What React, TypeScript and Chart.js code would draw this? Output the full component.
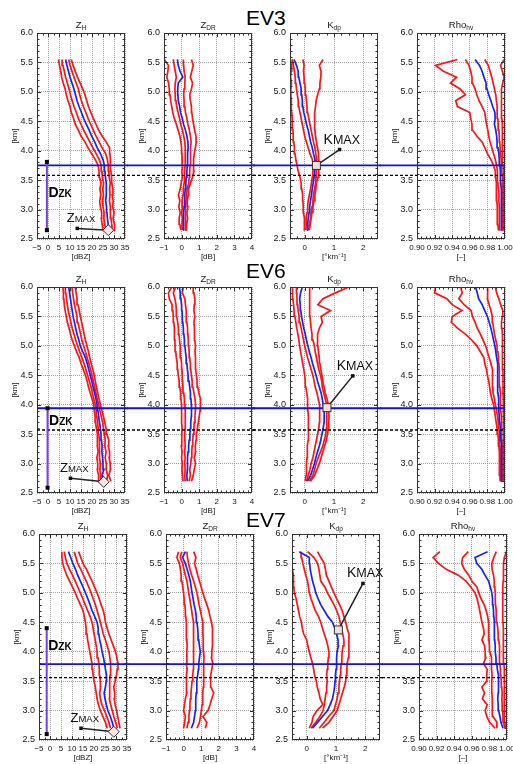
import React, { useEffect, useRef } from "react";
import { Chart, registerables } from "chart.js";
Chart.register(...registerables);

// ---------------- data ----------------
const EVENTS = ["EV3", "EV6", "EV7"];

const EV3_KM = [2.65,2.75,2.85,2.95,3.05,3.15,3.25,3.35,3.45,3.55,3.65,3.75,3.85,3.95,4.05,4.15,4.25,4.35,4.45,4.55,4.65,4.75,4.85,4.95,5.05,5.15,5.25,5.35,5.45,5.55];
const EV6_KM = [2.7,2.8,2.9,3.0,3.1,3.2,3.3,3.4,3.5,3.6,3.7,3.8,3.9,4.0,4.1,4.2,4.3,4.4,4.5,4.6,4.7,4.8,4.9,5.0,5.1,5.2,5.3,5.4,5.5,5.6,5.7,5.8,5.9,6.0];
const EV7_KM = [2.7,2.8,2.9,3.0,3.1,3.2,3.3,3.4,3.5,3.6,3.7,3.8,3.9,4.0,4.1,4.2,4.3,4.4,4.5,4.6,4.7,4.8,4.9,5.0,5.1,5.2,5.3,5.4,5.5,5.6,5.7];

// EV3
const EV3_ZH_P10 = [25.0,24.6,24.2,24.4,23.8,23.5,24.0,23.6,24.1,23.4,23.2,22.8,21.5,19.8,18.2,16.8,15.0,13.8,12.4,11.6,10.6,10.0,9.1,8.3,7.8,6.9,6.2,5.8,5.2,4.8];
const EV3_ZH_P25 = [26.2,25.8,25.4,25.5,25.0,24.8,25.2,24.9,25.3,24.7,24.5,24.2,23.3,21.9,20.4,19.0,17.6,16.2,15.0,13.8,12.9,11.8,11.0,10.2,9.6,8.8,8.0,7.4,6.8,6.4];
const EV3_ZH_MED = [27.8,27.4,27.0,26.8,26.6,26.2,26.5,26.4,26.6,26.1,25.9,25.6,25.0,23.8,22.4,21.2,19.8,18.7,17.4,16.2,15.2,14.1,13.2,12.5,11.8,10.9,10.0,9.3,8.6,8.0];
const EV3_ZH_P75 = [29.2,29.0,28.6,28.3,28.4,27.9,28.2,28.0,28.3,27.8,27.6,27.4,27.0,26.2,24.6,23.2,21.8,20.6,19.4,18.2,17.2,16.1,15.2,14.4,13.8,12.8,11.8,10.9,10.0,9.4];
const EV3_ZH_P90 = [30.0,30.2,29.6,30.0,29.4,29.6,29.2,29.5,29.0,28.9,28.6,28.4,28.3,28.1,28.0,26.4,24.6,23.0,21.8,20.6,19.5,18.4,17.6,16.8,15.8,14.6,13.4,12.4,11.4,10.6];

const EV3_ZDR_P10 = [-0.04,-0.1,-0.14,-0.08,-0.16,-0.1,-0.18,-0.08,-0.02,0.04,0.02,0.06,0.03,0.02,0.0,-0.04,-0.1,-0.2,-0.3,-0.42,-0.5,-0.56,-0.62,-0.66,-0.7,-0.74,-0.84,-0.78,-0.75,-0.98];
const EV3_ZDR_P25 = [0.04,0.02,0.05,0.0,0.06,0.03,0.08,0.1,0.14,0.15,0.18,0.2,0.2,0.22,0.2,0.18,0.12,0.05,-0.05,-0.12,-0.2,-0.28,-0.32,-0.36,-0.38,-0.36,-0.3,-0.36,-0.42,-0.47];
const EV3_ZDR_MED = [0.09,0.09,0.11,0.13,0.15,0.17,0.19,0.21,0.24,0.26,0.3,0.32,0.34,0.34,0.37,0.36,0.3,0.22,0.11,0.04,-0.06,-0.11,-0.19,-0.21,-0.22,-0.19,0.07,-0.09,-0.19,-0.24];
const EV3_ZDR_P75 = [0.2,0.22,0.2,0.24,0.22,0.26,0.28,0.32,0.4,0.44,0.46,0.48,0.5,0.5,0.52,0.54,0.5,0.44,0.36,0.3,0.22,0.18,0.14,0.12,0.14,0.18,0.2,0.14,0.12,0.1];
const EV3_ZDR_P90 = [0.3,0.28,0.34,0.3,0.36,0.32,0.38,0.4,0.5,0.62,0.7,0.66,0.7,0.72,0.78,0.84,0.82,0.74,0.68,0.62,0.58,0.56,0.5,0.46,0.56,0.62,0.5,0.58,0.66,0.56];

const EV3_KDP_P10 = [0.0,-0.02,0.0,-0.04,-0.05,-0.06,-0.07,-0.1,-0.12,-0.16,-0.22,-0.26,-0.3,-0.33,-0.35,-0.37,-0.39,-0.4,-0.42,-0.43,-0.44,-0.45,-0.46,-0.47,-0.47,-0.45,-0.48,-0.46,-0.44,-0.42];
const EV3_KDP_P25 = [0.04,0.06,0.05,0.08,0.1,0.12,0.16,0.2,0.23,0.26,0.28,0.3,0.26,0.18,0.12,0.06,0.0,-0.04,-0.08,-0.12,-0.16,-0.2,-0.22,-0.25,-0.28,-0.3,-0.32,-0.35,-0.38,-0.42];
const EV3_KDP_MED = [0.08,0.1,0.12,0.15,0.17,0.2,0.23,0.26,0.29,0.32,0.34,0.37,0.35,0.3,0.26,0.2,0.16,0.12,0.06,0.02,-0.03,-0.06,-0.08,-0.1,-0.12,-0.16,-0.2,-0.22,-0.28,-0.36];
const EV3_KDP_P75 = [0.14,0.16,0.2,0.22,0.25,0.28,0.3,0.34,0.37,0.39,0.4,0.41,0.4,0.38,0.35,0.3,0.26,0.22,0.18,0.14,0.1,0.08,0.06,0.04,0.02,0.0,-0.02,-0.04,-0.02,-0.06];
const EV3_KDP_P90 = [0.16,0.19,0.22,0.25,0.28,0.32,0.35,0.38,0.4,0.46,0.48,0.5,0.48,0.47,0.44,0.4,0.37,0.35,0.34,0.33,0.35,0.37,0.39,0.44,0.5,0.52,0.55,0.56,0.5,0.63];

const EV3_RHO_P10 = [0.9925,0.992,0.9915,0.991,0.9912,0.9905,0.9908,0.99,0.9898,0.9895,0.989,0.987,0.984,0.98,0.977,0.974,0.968,0.963,0.9625,0.961,0.96,0.946,0.944,0.955,0.949,0.938,0.945,0.93,0.921,0.946];
const EV3_RHO_P25 = [0.994,0.9935,0.994,0.9932,0.9935,0.993,0.9932,0.9925,0.992,0.9918,0.991,0.9905,0.989,0.987,0.985,0.983,0.9815,0.9805,0.979,0.978,0.977,0.974,0.9705,0.968,0.966,0.963,0.9625,0.961,0.959,0.955];
const EV3_RHO_MED = [0.9962,0.996,0.9962,0.996,0.9958,0.9957,0.9955,0.9955,0.9952,0.995,0.9945,0.9942,0.9935,0.993,0.992,0.991,0.9905,0.9895,0.988,0.9888,0.9885,0.986,0.984,0.9815,0.9795,0.9785,0.976,0.974,0.971,0.966];
const EV3_RHO_P75 = [0.9975,0.9972,0.9975,0.9973,0.9972,0.997,0.9972,0.997,0.9968,0.9966,0.9962,0.996,0.9955,0.995,0.9945,0.994,0.9935,0.993,0.9922,0.9918,0.9912,0.991,0.9902,0.9895,0.988,0.9865,0.985,0.983,0.981,0.977];
const EV3_RHO_P90 = [0.9985,0.9983,0.9985,0.9984,0.9983,0.9985,0.9982,0.9984,0.9983,0.998,0.9978,0.9977,0.9975,0.9972,0.997,0.9968,0.997,0.9966,0.9968,0.9965,0.9962,0.9965,0.996,0.9955,0.9958,0.9975,0.999,0.997,0.995,0.999];

// EV6
const EV6_ZH_P10 = [22.8,23.0,22.4,22.6,22.2,22.8,22.4,22.6,22.3,22.0,21.6,21.4,21.0,20.8,20.0,19.2,18.4,17.8,17.0,16.0,15.0,14.2,13.0,12.0,11.0,10.2,9.6,8.8,8.3,7.8,7.4,7.2,7.0,6.8];
const EV6_ZH_P25 = [23.8,24.0,23.6,23.8,23.4,23.6,23.2,23.4,23.0,22.8,22.5,22.2,21.9,21.5,20.8,20.2,19.6,18.8,18.0,17.2,16.4,15.4,14.4,13.5,12.6,11.8,11.0,10.4,9.8,9.2,8.8,8.4,8.1,7.9];
const EV6_ZH_MED = [25.0,24.6,25.4,25.0,24.8,24.5,24.6,24.3,24.1,23.8,23.4,23.0,22.7,22.3,21.8,21.2,20.5,19.9,19.2,18.5,17.8,17.0,15.8,14.7,14.0,13.2,12.6,12.0,11.4,11.0,10.6,10.2,9.8,9.4];
const EV6_ZH_P75 = [26.6,27.1,26.4,26.5,26.0,26.4,25.8,26.0,25.6,25.2,24.8,24.2,23.6,23.0,22.4,21.8,21.2,20.6,20.0,19.3,18.6,17.8,17.0,16.2,15.4,14.8,14.2,13.6,13.2,12.6,12.0,11.6,11.2,10.9];
const EV6_ZH_P90 = [28.6,27.6,28.4,28.3,27.8,28.0,27.4,27.6,26.8,26.4,25.8,25.2,24.5,23.8,23.2,22.6,22.0,21.5,21.0,20.4,19.6,19.0,18.4,17.7,17.0,16.4,15.9,15.3,14.7,14.2,13.6,13.2,12.8,12.4];

const EV6_ZDR_P10 = [0.08,0.05,0.02,0.04,0.0,0.03,-0.02,0.02,0.0,0.03,0.0,0.02,-0.02,0.0,-0.04,-0.06,-0.1,-0.14,-0.19,-0.22,-0.25,-0.3,-0.33,-0.37,-0.38,-0.4,-0.42,-0.44,-0.47,-0.5,-0.54,-0.7,-0.75,-0.56];
const EV6_ZDR_P25 = [0.2,0.18,0.2,0.18,0.2,0.17,0.2,0.19,0.18,0.2,0.22,0.2,0.2,0.19,0.16,0.12,0.08,0.06,0.04,0.02,0.0,-0.04,-0.07,-0.09,-0.12,-0.15,-0.18,-0.22,-0.28,-0.3,-0.32,-0.38,-0.47,-0.34];
const EV6_ZDR_MED = [0.32,0.3,0.33,0.32,0.35,0.37,0.4,0.43,0.47,0.5,0.52,0.55,0.56,0.56,0.53,0.5,0.46,0.42,0.37,0.33,0.3,0.26,0.22,0.19,0.16,0.13,0.1,0.07,0.04,0.02,0.0,-0.04,-0.08,-0.13];
const EV6_ZDR_P75 = [0.42,0.5,0.46,0.52,0.55,0.58,0.6,0.63,0.66,0.7,0.72,0.76,0.78,0.79,0.76,0.7,0.64,0.6,0.56,0.52,0.5,0.46,0.43,0.41,0.38,0.36,0.34,0.3,0.28,0.25,0.22,0.18,0.04,0.1];
const EV6_ZDR_P90 = [0.56,0.66,0.72,0.79,0.72,0.8,0.78,0.82,0.84,0.9,0.95,1.0,1.05,1.06,1.09,0.98,0.92,0.88,0.84,0.8,0.78,0.8,0.76,0.79,0.74,0.72,0.74,0.7,0.75,0.7,0.72,0.75,0.7,0.66];

const EV6_KDP_P10 = [0.02,0.05,0.06,0.06,0.08,0.08,0.1,0.12,0.14,0.13,0.12,0.12,0.11,0.11,0.09,0.07,0.04,0.02,0.0,-0.03,-0.07,-0.1,-0.14,-0.17,-0.2,-0.23,-0.27,-0.3,-0.33,-0.36,-0.38,-0.4,-0.41,-0.42];
const EV6_KDP_P25 = [0.06,0.12,0.18,0.22,0.28,0.32,0.36,0.4,0.44,0.48,0.5,0.52,0.51,0.5,0.46,0.42,0.36,0.32,0.28,0.22,0.16,0.1,0.05,0.0,-0.04,-0.08,-0.12,-0.16,-0.19,-0.22,-0.24,-0.26,-0.27,-0.28];
const EV6_KDP_MED = [0.1,0.2,0.27,0.33,0.38,0.44,0.5,0.55,0.59,0.63,0.66,0.67,0.66,0.63,0.6,0.56,0.5,0.44,0.39,0.33,0.27,0.22,0.16,0.11,0.06,0.02,-0.03,-0.07,-0.11,-0.13,-0.15,-0.17,-0.14,-0.08];
const EV6_KDP_P75 = [0.16,0.28,0.34,0.39,0.46,0.54,0.62,0.67,0.72,0.74,0.76,0.76,0.75,0.74,0.7,0.65,0.6,0.58,0.54,0.48,0.44,0.4,0.36,0.33,0.28,0.25,0.22,0.2,0.18,0.17,0.18,0.17,0.16,0.17];
const EV6_KDP_P90 = [0.2,0.34,0.42,0.5,0.56,0.62,0.68,0.74,0.78,0.8,0.82,0.83,0.82,0.81,0.76,0.7,0.66,0.62,0.59,0.55,0.52,0.5,0.47,0.45,0.44,0.44,0.5,0.6,0.56,0.88,0.45,0.62,1.05,1.5];

const EV6_RHO_P10 = [0.9945,0.9942,0.994,0.9938,0.9935,0.9932,0.993,0.9925,0.992,0.991,0.99,0.989,0.988,0.987,0.985,0.9835,0.9825,0.9815,0.98,0.979,0.977,0.976,0.972,0.968,0.962,0.955,0.946,0.939,0.94,0.951,0.94,0.934,0.92,0.921];
const EV6_RHO_P25 = [0.9955,0.9953,0.995,0.995,0.9948,0.9945,0.9942,0.994,0.9935,0.993,0.9925,0.9915,0.9905,0.989,0.988,0.9865,0.9862,0.986,0.9858,0.9855,0.984,0.982,0.98,0.978,0.975,0.972,0.9685,0.966,0.963,0.9615,0.9535,0.9475,0.9515,0.9495];
const EV6_RHO_MED = [0.9965,0.9965,0.9963,0.9962,0.996,0.9958,0.9955,0.9953,0.995,0.9945,0.994,0.9935,0.993,0.993,0.9925,0.992,0.992,0.9918,0.992,0.9915,0.991,0.9905,0.9895,0.9885,0.987,0.9855,0.984,0.982,0.98,0.977,0.974,0.97,0.9685,0.9665];
const EV6_RHO_P75 = [0.9975,0.9973,0.9972,0.997,0.997,0.9968,0.9967,0.9965,0.9962,0.996,0.9958,0.9955,0.9952,0.995,0.9948,0.9945,0.9942,0.994,0.9935,0.9932,0.993,0.9925,0.992,0.991,0.9895,0.988,0.987,0.986,0.9855,0.984,0.982,0.98,0.9805,0.98];
const EV6_RHO_P90 = [0.9985,0.9984,0.9985,0.9984,0.9985,0.9983,0.9984,0.9982,0.9983,0.998,0.9982,0.998,0.9978,0.998,0.9978,0.9977,0.9978,0.9976,0.9978,0.9975,0.9972,0.9975,0.9972,0.997,0.9968,0.997,0.9965,0.996,0.997,0.9975,0.995,0.993,0.9905,0.989];

// EV7
const EV7_ZH_P10 = [26.0,25.2,24.0,22.9,22.0,21.4,21.0,20.6,20.0,19.6,19.4,19.1,18.6,18.1,17.6,17.1,16.8,16.4,16.1,15.6,15.0,13.8,12.6,11.5,10.2,8.9,7.6,6.6,5.8,5.4,5.4];
const EV7_ZH_P25 = [27.5,26.8,25.8,24.8,23.6,22.9,22.6,23.0,22.9,22.6,22.4,22.2,21.8,21.4,21.0,20.6,20.0,19.6,19.1,18.2,17.1,16.0,14.9,13.8,12.6,11.5,10.2,8.9,7.7,7.0,6.5];
const EV7_ZH_MED = [29.0,28.3,27.4,26.3,25.6,25.0,24.6,25.2,25.6,25.7,25.2,24.8,24.3,23.7,23.2,22.6,22.2,21.9,21.4,20.3,19.1,18.2,17.2,16.1,15.0,13.8,12.6,11.6,10.4,9.4,8.4];
const EV7_ZH_P75 = [30.6,29.8,29.0,28.3,27.6,27.0,27.2,27.0,27.2,27.3,27.6,27.5,27.2,26.8,26.0,25.2,24.2,23.6,22.9,22.2,21.4,20.6,19.6,18.7,17.6,16.5,15.2,14.0,12.6,11.8,11.0];
const EV7_ZH_P90 = [31.8,31.3,30.8,30.3,29.6,29.2,29.4,29.0,29.6,30.2,30.6,30.9,30.4,29.8,28.8,27.8,26.8,26.0,25.2,24.8,24.2,23.2,22.4,21.4,20.2,19.1,17.8,16.6,15.0,14.0,13.0];

const EV7_ZDR_P10 = [0.0,0.06,0.1,0.0,0.05,0.1,0.18,0.14,0.19,0.16,0.2,0.15,0.18,0.19,0.2,0.18,0.17,0.15,0.15,0.12,0.1,0.07,0.03,0.0,-0.05,-0.1,-0.14,-0.18,-0.24,-0.38,-0.29];
const EV7_ZDR_P25 = [0.19,0.25,0.3,0.33,0.36,0.38,0.42,0.45,0.48,0.52,0.55,0.55,0.57,0.57,0.58,0.57,0.57,0.56,0.55,0.5,0.46,0.4,0.35,0.29,0.24,0.19,0.1,0.02,-0.05,-0.19,-0.1];
const EV7_ZDR_MED = [0.44,0.57,0.62,0.67,0.68,0.7,0.72,0.74,0.76,0.8,0.84,0.86,0.9,0.95,0.9,0.86,0.82,0.8,0.76,0.72,0.67,0.6,0.54,0.48,0.43,0.38,0.3,0.2,0.1,-0.06,0.1];
const EV7_ZDR_P75 = [0.76,0.9,0.96,1.01,1.05,1.07,1.1,1.12,1.14,1.14,1.15,1.14,1.16,1.14,1.12,1.11,1.1,1.1,1.09,1.02,0.95,0.88,0.82,0.76,0.67,0.57,0.46,0.36,0.28,0.22,0.19];
const EV7_ZDR_P90 = [1.24,1.32,1.1,1.39,1.5,1.6,1.71,1.55,1.52,1.55,1.6,1.66,1.58,1.6,1.64,1.66,1.64,1.62,1.58,1.5,1.43,1.32,1.2,1.09,1.0,0.9,0.8,0.72,0.62,0.7,0.57];

const EV7_KDP_P10 = [0.09,0.18,0.22,0.35,0.55,0.46,0.42,0.36,0.33,0.27,0.24,0.2,0.14,0.09,0.04,0.0,-0.1,-0.15,-0.18,-0.24,-0.28,-0.32,-0.36,-0.42,-0.44,-0.44,-0.46,-0.49,null,null,null];
const EV7_KDP_P25 = [0.15,0.31,0.45,0.56,0.6,0.63,0.66,0.68,0.7,0.68,0.7,0.72,0.74,0.76,0.72,0.67,0.6,0.54,0.48,0.4,0.29,0.22,0.15,0.09,0.06,0.03,-0.03,-0.08,-0.13,-0.17,-0.19];
const EV7_KDP_MED = [0.2,0.37,0.54,0.71,0.8,0.88,0.92,0.95,0.97,0.98,1.0,1.01,1.03,1.04,1.08,1.07,1.02,0.96,0.88,0.72,0.6,0.48,0.39,0.31,0.26,0.2,0.16,0.12,0.1,0.09,-0.25];
const EV7_KDP_P75 = [0.43,0.6,0.75,0.93,0.98,1.04,1.07,1.1,1.12,1.14,1.16,1.18,1.2,1.21,1.24,1.27,1.23,1.19,1.14,1.1,1.02,0.93,0.82,0.71,0.62,0.48,0.45,0.42,0.37,0.25,0.03];
const EV7_KDP_P90 = [0.54,0.76,0.9,1.04,1.1,1.16,1.22,1.28,1.33,1.35,1.37,1.38,1.42,1.44,1.44,1.44,1.44,1.38,1.33,1.27,1.21,1.12,1.02,0.93,0.84,0.76,0.67,0.64,0.6,0.48,0.37];

const EV7_RHO_P10 = [0.9866,0.9802,0.977,0.9752,0.9775,0.972,0.9745,0.9715,0.9768,0.977,0.9775,0.9733,0.976,0.9752,0.9745,0.9715,0.974,0.9733,0.9715,0.9702,0.969,0.9676,0.966,0.9637,0.9588,0.9534,0.9447,0.931,0.922,0.916,0.9237];
const EV7_RHO_P25 = [0.9885,0.9885,0.984,0.9836,0.983,0.9832,0.9828,0.9825,0.9828,0.983,0.9825,0.9828,0.982,0.9805,0.98,0.9795,0.9792,0.979,0.979,0.978,0.9763,0.974,0.9705,0.968,0.9656,0.96,0.9565,0.9515,0.9485,0.9495,0.956];
const EV7_RHO_MED = [0.9954,0.9931,0.992,0.9905,0.99,0.9895,0.99,0.9905,0.9905,0.99,0.989,0.9885,0.9875,0.9866,0.9866,0.986,0.9858,0.9856,0.9855,0.985,0.9847,0.984,0.9835,0.9828,0.981,0.979,0.975,0.9714,0.9656,0.9637,0.9779];
const EV7_RHO_P75 = [0.9973,0.9962,0.9955,0.995,0.9945,0.9942,0.9945,0.994,0.9935,0.993,0.9925,0.992,0.9918,0.9916,0.991,0.9905,0.99,0.9895,0.9885,0.988,0.9875,0.987,0.9868,0.9866,0.986,0.9855,0.9847,0.983,0.9828,0.985,0.9878];
const EV7_RHO_P90 = [0.9985,0.9975,0.997,0.9968,0.997,0.9972,0.9968,0.997,0.9973,0.997,0.9968,0.9965,0.9962,0.9962,0.996,0.9958,0.9955,0.9955,0.9954,0.9952,0.995,0.995,0.995,0.9954,0.9954,0.9956,0.9958,0.996,0.9962,0.997,0.9992];

// tick labels
const KM_TICKS = [2.5, 3.0, 3.5, 4.0, 4.5, 5.0, 5.5, 6.0];
const ZH_TICKS = [-5, 0, 5, 10, 15, 20, 25, 30, 35];
const ZDR_TICKS = [-1, 0, 1, 2, 3, 4];
const KDP_TICKS = [0, 1, 2];
const RHO_TICKS = [0.9, 0.92, 0.94, 0.96, 0.98, 1.0];

// annotation values (per event)
const BLUE_LEVEL = [3.75, 3.94, 3.79];
const DASH_LEVEL = [3.58, 3.57, 3.56];
const DZK_X = [-0.5, -0.2, -1.5];
const DZK_TOP = [3.81, 3.94, 4.4];
const DZK_BOTTOM = [2.65, 2.59, 2.6];
const DZK_LABEL_KM = [3.22, 3.66, 4.03];
const ZMAX_X = [27.4, 25.3, 29.0];
const ZMAX_KM = [2.65, 2.69, 2.64];
const ZTAG_X = [13.3, 10.2, 14.1];
const ZTAG_KM = [2.68, 2.75, 2.7];
const KMAX_X = [0.4, 0.76, 1.08];
const KMAX_KM = [3.75, 3.95, 4.37];
const KTAG_X = [1.19, 1.64, 1.92];
const KTAG_KM = [4.02, 4.49, 5.16];

const KM = [EV3_KM, EV6_KM, EV7_KM];
const SERIES = [
  [
    [EV3_ZH_P10, EV3_ZH_P25, EV3_ZH_MED, EV3_ZH_P75, EV3_ZH_P90],
    [EV3_ZDR_P10, EV3_ZDR_P25, EV3_ZDR_MED, EV3_ZDR_P75, EV3_ZDR_P90],
    [EV3_KDP_P10, EV3_KDP_P25, EV3_KDP_MED, EV3_KDP_P75, EV3_KDP_P90],
    [EV3_RHO_P10, EV3_RHO_P25, EV3_RHO_MED, EV3_RHO_P75, EV3_RHO_P90],
  ],
  [
    [EV6_ZH_P10, EV6_ZH_P25, EV6_ZH_MED, EV6_ZH_P75, EV6_ZH_P90],
    [EV6_ZDR_P10, EV6_ZDR_P25, EV6_ZDR_MED, EV6_ZDR_P75, EV6_ZDR_P90],
    [EV6_KDP_P10, EV6_KDP_P25, EV6_KDP_MED, EV6_KDP_P75, EV6_KDP_P90],
    [EV6_RHO_P10, EV6_RHO_P25, EV6_RHO_MED, EV6_RHO_P75, EV6_RHO_P90],
  ],
  [
    [EV7_ZH_P10, EV7_ZH_P25, EV7_ZH_MED, EV7_ZH_P75, EV7_ZH_P90],
    [EV7_ZDR_P10, EV7_ZDR_P25, EV7_ZDR_MED, EV7_ZDR_P75, EV7_ZDR_P90],
    [EV7_KDP_P10, EV7_KDP_P25, EV7_KDP_MED, EV7_KDP_P75, EV7_KDP_P90],
    [EV7_RHO_P10, EV7_RHO_P25, EV7_RHO_MED, EV7_RHO_P75, EV7_RHO_P90],
  ],
];

// ---------------- styling / layout ----------------
const FONT = '"Liberation Sans", Arial, Helvetica, sans-serif';
const RED = "#ff1414";
const BLUE = "#1424ff";
const HBLUE = "#1212d8";
const PURPLE = "#7a3cf0";
const GRID = "#8f8f8f";
const TXT = "#1a1a1a";

const PLOT_LEFT = [37, 164, 290, 417];
const ROW_TOP = [33, 287, 534];
const ROW_SHIFT = [0, 0, 2];
const PLOT_W = 88;
const PLOT_H = 206;
const Y_AXIS_W = 37;
const TOP_PAD = 33;
const X_AXIS_H = 30;
const RIGHT_PAD = 12;
const EV_TITLE_TOP = [7, 260, 509];

const fmtInt = (v: number) => (v < 0 ? "\u2212" + Math.abs(v) : String(v));
const VARS = [
  { title: ["Z", "H"], unit: "[dBZ]", min: -5, max: 35, ticks: ZH_TICKS, minor: 2.5, fmt: fmtInt },
  { title: ["Z", "DR"], unit: "[dB]", min: -1, max: 4, ticks: ZDR_TICKS, minor: 0.25, fmt: fmtInt },
  { title: ["K", "dp"], unit: "[\u00B0km\u207B\u00B9]", min: -0.5, max: 2.5, ticks: KDP_TICKS, minor: 0.25, fmt: fmtInt },
  { title: ["Rho", "hv"], unit: "[\u2013]", min: 0.9, max: 1.0, ticks: RHO_TICKS, minor: 0.005, fmt: (v: number) => v.toFixed(2) },
];

function drawSub(ctx: CanvasRenderingContext2D, x: number, y: number, main: string, sub: string, f1: string, f2: string, dy: number, center: boolean) {
  ctx.font = f1;
  const w1 = ctx.measureText(main).width;
  ctx.font = f2;
  const w2 = ctx.measureText(sub).width;
  const x0 = center ? x - (w1 + w2) / 2 : x;
  ctx.textAlign = "left";
  ctx.textBaseline = "alphabetic";
  ctx.font = f1;
  ctx.fillText(main, x0, y);
  ctx.font = f2;
  ctx.fillText(sub, x0 + w1, y + dy);
}

function seg(ctx: CanvasRenderingContext2D, x0: number, y0: number, x1: number, y1: number) {
  ctx.beginPath();
  ctx.moveTo(x0, y0);
  ctx.lineTo(x1, y1);
  ctx.stroke();
}

function makeDeco(row: number, col: number) {
  return {
    id: "deco",
    afterDatasetsDraw(chart: any) {
      const ctx: CanvasRenderingContext2D = chart.ctx;
      const a = chart.chartArea;
      const xs = chart.scales.x;
      const ys = chart.scales.y;
      const v = VARS[col];
      ctx.save();

      // frame + inward ticks
      ctx.strokeStyle = "#333";
      ctx.lineWidth = 1;
      ctx.beginPath();
      const nx = Math.round((v.max - v.min) / v.minor);
      for (let i = 1; i < nx; i++) {
        const val = v.min + i * v.minor;
        const px = Math.round(xs.getPixelForValue(val)) + 0.5;
        const major = v.ticks.some((t: number) => Math.abs(t - val) < 1e-6);
        const len = major ? 4 : 2.5;
        ctx.moveTo(px, a.bottom);
        ctx.lineTo(px, a.bottom - len);
        ctx.moveTo(px, a.top);
        ctx.lineTo(px, a.top + len);
      }
      for (let i = 1; i < 35; i++) {
        const val = 2.5 + i * 0.1;
        const py = Math.round(ys.getPixelForValue(val)) + 0.5;
        const len = i % 5 === 0 ? 4 : 2.5;
        ctx.moveTo(a.left, py);
        ctx.lineTo(a.left + len, py);
        ctx.moveTo(a.right, py);
        ctx.lineTo(a.right - len, py);
      }
      ctx.stroke();
      ctx.strokeRect(a.left + 0.5, a.top + 0.5, a.right - a.left - 1, a.bottom - a.top - 1);

      // horizontal reference lines across the row
      const hx0 = col === 0 ? a.left : 0;
      const hx1 = col === 3 ? a.right : a.right + 3;
      const yd = ys.getPixelForValue(DASH_LEVEL[row]);
      ctx.setLineDash([3, 2]);
      ctx.strokeStyle = "#000";
      ctx.lineWidth = 1.3;
      seg(ctx, hx0, yd, hx1, yd);
      ctx.setLineDash([]);
      const yb = ys.getPixelForValue(BLUE_LEVEL[row]);
      ctx.strokeStyle = HBLUE;
      ctx.lineWidth = 1.8;
      seg(ctx, hx0, yb, hx1, yb);

      // panel title
      ctx.fillStyle = TXT;
      drawSub(ctx, (a.left + a.right) / 2, a.top - 5, v.title[0], v.title[1], `9.5px ${FONT}`, `6.5px ${FONT}`, 2, true);

      if (col === 0) {
        const lx = xs.getPixelForValue(DZK_X[row]);
        const t = ys.getPixelForValue(DZK_TOP[row]);
        const b = ys.getPixelForValue(DZK_BOTTOM[row]);
        ctx.strokeStyle = PURPLE;
        ctx.lineWidth = 2;
        seg(ctx, lx, t, lx, b);
        ctx.fillStyle = "#000";
        ctx.fillRect(lx - 2, t - 2, 4, 4);
        ctx.fillRect(lx - 2, b - 2, 4, 4);
        drawSub(ctx, lx + 1.5, ys.getPixelForValue(DZK_LABEL_KM[row]), "D", "ZK", `bold 14px ${FONT}`, `bold 10px ${FONT}`, 0, false);

        const tx = xs.getPixelForValue(ZTAG_X[row]);
        const ty = ys.getPixelForValue(ZTAG_KM[row]);
        const dx = xs.getPixelForValue(ZMAX_X[row]);
        const dy = ys.getPixelForValue(ZMAX_KM[row]);
        ctx.strokeStyle = "#222";
        ctx.lineWidth = 1.5;
        seg(ctx, tx, ty, dx, dy);
        ctx.fillStyle = "#111";
        ctx.fillRect(tx - 1.75, ty - 1.75, 3.5, 3.5);
        const r = 5.5;
        ctx.beginPath();
        ctx.moveTo(dx, dy - r);
        ctx.lineTo(dx + r, dy);
        ctx.lineTo(dx, dy + r);
        ctx.lineTo(dx - r, dy);
        ctx.closePath();
        ctx.fillStyle = "#fbe6e6";
        ctx.fill();
        ctx.strokeStyle = "#333";
        ctx.lineWidth = 1;
        ctx.stroke();
        ctx.fillStyle = "#111";
        drawSub(ctx, tx - 10.5, ty - 6, "Z", "MAX", `13px ${FONT}`, `9.5px ${FONT}`, 0, false);
      }

      if (col === 2) {
        const tx = xs.getPixelForValue(KTAG_X[row]);
        const ty = ys.getPixelForValue(KTAG_KM[row]);
        const kx = xs.getPixelForValue(KMAX_X[row]);
        const ky = ys.getPixelForValue(KMAX_KM[row]);
        ctx.strokeStyle = "#222";
        ctx.lineWidth = 1.5;
        seg(ctx, tx, ty, kx, ky);
        ctx.fillStyle = "#111";
        ctx.fillRect(tx - 1.75, ty - 1.75, 3.5, 3.5);
        ctx.fillStyle = "#eee0e0";
        ctx.fillRect(kx - 4, ky - 4, 8, 8);
        ctx.strokeStyle = "#333";
        ctx.lineWidth = 1;
        ctx.strokeRect(kx - 4, ky - 4, 8, 8);
        ctx.fillStyle = "#111";
        drawSub(ctx, tx - 16, ty - 6, "K", "MAX", `14px ${FONT}`, `12.5px ${FONT}`, 0, false);
      }
      ctx.restore();
    },
  };
}

function Panel({ row, col }: { row: number; col: number }) {
  const ref = useRef<HTMLCanvasElement | null>(null);
  const width = Y_AXIS_W + PLOT_W + RIGHT_PAD;
  const height = TOP_PAD + PLOT_H + X_AXIS_H;
  const left = PLOT_LEFT[col] + ROW_SHIFT[row] - Y_AXIS_W;
  const top = ROW_TOP[row] - TOP_PAD;

  useEffect(() => {
    if (!ref.current) return;
    const v = VARS[col];
    const km = KM[row];
    const datasets = SERIES[row][col].map((vals: (number | null)[], i: number) => ({
      data: km
        .map((h: number, j: number) => ({ x: vals[j], y: h }))
        .filter((p: any) => p.x !== null && p.x !== undefined),
      borderColor: i === 2 ? BLUE : RED,
      backgroundColor: i === 2 ? BLUE : RED,
      borderWidth: 1.7,
      pointRadius: 0,
      showLine: true,
      fill: false,
      tension: 0,
      order: i === 2 ? 0 : 1,
    }));
    const chart = new Chart(ref.current, {
      type: "scatter",
      data: { datasets },
      options: {
        responsive: false,
        maintainAspectRatio: false,
        animation: false,
        devicePixelRatio: 1,
        events: [],
        layout: { padding: { left: 0, right: RIGHT_PAD, top: TOP_PAD, bottom: 0 } },
        plugins: { legend: { display: false }, tooltip: { enabled: false }, title: { display: false } },
        scales: {
          x: {
            type: "linear",
            position: "bottom",
            min: v.min,
            max: v.max,
            afterBuildTicks: (ax: any) => {
              ax.ticks = v.ticks.map((t: number) => ({ value: t }));
            },
            afterFit: (ax: any) => {
              ax.height = X_AXIS_H;
            },
            ticks: {
              autoSkip: false,
              maxRotation: 0,
              minRotation: 0,
              padding: 4,
              color: TXT,
              font: { family: FONT, size: 8 },
              callback: (val: any) => v.fmt(Number(val)),
            },
            grid: { color: GRID, lineWidth: 0.8, drawTicks: false },
            border: { display: false, dash: [1, 1] },
            title: { display: true, text: v.unit, color: TXT, font: { family: FONT, size: 8 }, padding: { top: 0, bottom: 7 } },
          },
          y: {
            type: "linear",
            position: "left",
            min: 2.5,
            max: 6.0,
            afterBuildTicks: (ax: any) => {
              ax.ticks = KM_TICKS.map((t) => ({ value: t }));
            },
            afterFit: (ax: any) => {
              ax.width = Y_AXIS_W;
            },
            ticks: {
              autoSkip: false,
              padding: 4,
              color: TXT,
              font: { family: FONT, size: 9 },
              callback: (val: any) => Number(val).toFixed(1),
            },
            grid: { color: GRID, lineWidth: 0.8, drawTicks: false },
            border: { display: false, dash: [1, 1] },
            title: { display: true, text: "[km]", color: TXT, font: { family: FONT, size: 8 }, padding: { top: 10, bottom: 0 } },
          },
        },
      } as any,
      plugins: [makeDeco(row, col) as any],
    });
    return () => chart.destroy();
  }, [row, col]);

  return (
    <canvas
      ref={ref}
      width={width}
      height={height}
      style={{ position: "absolute", left, top, width, height }}
    />
  );
}

export default function App() {
  return (
    <div style={{ position: "absolute", left: 0, top: 0, width: 513, height: 764, overflow: "hidden", background: "#fff" }}>
      {EVENTS.map((ev, r) => (
        <React.Fragment key={ev}>
          <div
            style={{
              position: "absolute",
              left: 246,
              top: EV_TITLE_TOP[r],
              font: `21px ${FONT}`,
              lineHeight: "21px",
              color: "#000",
              whiteSpace: "nowrap",
            }}
          >
            {ev}
          </div>
          {[0, 1, 2, 3].map((c) => (
            <Panel key={c} row={r} col={c} />
          ))}
        </React.Fragment>
      ))}
    </div>
  );
}
